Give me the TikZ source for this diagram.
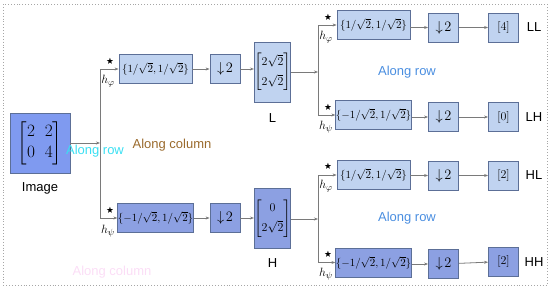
\documentclass[tikz,border=0pt]{standalone}
\usepackage{amsmath,amssymb}
\usepackage{fontspec}
\newfontfamily\labfont{Liberation Sans}
\usetikzlibrary{arrows.meta}
\definecolor{lightc}{HTML}{C0D3F0}
\definecolor{darkc}{HTML}{8CA0E2}
\definecolor{imgc}{HTML}{7F9AF0}
\definecolor{bordc}{HTML}{5C6F97}
\definecolor{linec}{HTML}{7A7A7A}
\definecolor{brownc}{HTML}{9A6A2C}
\definecolor{bluec}{HTML}{4A8EE0}
\definecolor{cyanc}{HTML}{3ADFF2}
\definecolor{pinkc}{HTML}{FBDDF6}
\tikzset{
  boxbase/.style={draw=bordc, line width=0.8pt, inner sep=0pt, align=center},
  lfilt/.style={boxbase, fill=lightc, minimum width=73pt, minimum height=29pt, font=\fontsize{10.5}{12}\selectfont},
  dfilt/.style={boxbase, fill=darkc, minimum width=73pt, minimum height=29pt, font=\fontsize{10.5}{12}\selectfont},
  ldown/.style={boxbase, fill=lightc, minimum width=30pt, minimum height=29pt, font=\fontsize{15}{17}\selectfont},
  ddown/.style={boxbase, fill=darkc, minimum width=30pt, minimum height=29pt, font=\fontsize{15}{17}\selectfont},
  lres/.style={boxbase, fill=lightc, minimum width=30pt, minimum height=29pt, font=\fontsize{12}{14}\selectfont},
  dres/.style={boxbase, fill=darkc, minimum width=30pt, minimum height=29pt, font=\fontsize{12}{14}\selectfont},
  lmid/.style={boxbase, fill=lightc, minimum width=29pt, minimum height=60pt, font=\fontsize{12.5}{15}\selectfont},
  dmid/.style={boxbase, fill=darkc, minimum width=29pt, minimum height=60pt, font=\fontsize{12.5}{15}\selectfont},
  lab/.style={font=\labfont\fontsize{13}{15}\selectfont},
  arr/.style={draw=linec, line width=0.8pt, -{Stealth[length=4pt,width=3pt]}},
  hlab/.style={font=\fontsize{13}{15}\selectfont},
  starlab/.style={font=\fontsize{7.5}{9}\selectfont},
}
\newcommand{\filtp}{$\{1/\sqrt{2},1/\sqrt{2}\}$}
\newcommand{\filtm}{$\{-1/\sqrt{2},1/\sqrt{2}\}$}
\begin{document}
\begin{tikzpicture}[x=1pt,y=-1pt]
\useasboundingbox (0,0) rectangle (550,289);
\draw[gray!70, dotted, line width=0.9pt] (3,4) rectangle (547,285);

% faint ghost text
\node[text=pinkc, lab, anchor=center] (ghost) at (112,272) {Along column};

% image
\node[boxbase, fill=imgc, minimum width=60pt, minimum height=60pt, font=\fontsize{18}{22}\selectfont] (img) at (40,143)
  {$\begin{bmatrix}2 & 2\\[-1pt] 0 & 4\end{bmatrix}$};
\node[lab] (imgl) at (40,188) {Image};

% level 1
\coordinate (j1) at (100,143);
\node[lfilt] (f1) at (155.5,69) {\filtp};
\node[ldown] (d1) at (225,69) {$\downarrow\!2$};
\node[lmid] (L) at (272.5,72) {$\left[\begin{array}{@{}c@{}}2\sqrt{2}\\[5pt] 2\sqrt{2}\end{array}\right]$};
\node[lab] (Ll) at (272.5,118) {L};
\node[dfilt] (f2) at (155.5,218) {\filtm};
\node[ddown] (d2) at (225,218) {$\downarrow\!2$};
\node[dmid] (H) at (272.5,218.5) {$\left[\begin{array}{@{}c@{}}0\\[5pt] 2\sqrt{2}\end{array}\right]$};
\node[lab] (Hl) at (272.5,263) {H};

\node[starlab] (s1) at (110,62) {$\bigstar$};
\node[hlab] (h1) at (108,81) {$h_\varphi$};
\node[starlab] (s2) at (110,211) {$\bigstar$};
\node[hlab] (h2) at (108,231) {$h_\psi$};

\draw[arr] (img.east |- j1) -- (j1);
\draw[arr] (j1) |- (f1.west);
\draw[arr] (j1) |- (f2.west);
\draw[arr] (f1) -- (d1);
\draw[arr] (d1) -- (L.west |- d1);
\draw[arr] (f2) -- (d2);
\draw[arr] (d2) -- (H.west |- d2);

\node[lab, text=brownc] (ac) at (172,145) {Along column};
\node[lab, text=cyanc] (ar0) at (95,151) {Along row};

% level 2, from L
\coordinate (j2) at (318,72);
\node[lfilt] (f3) at (373.5,25) {\filtp};
\node[ldown] (d3) at (443.5,27.5) {$\downarrow\!2$};
\node[lres] (r3) at (503.5,27.5) {$[4]$};
\node[lab] (LL) at (534,27) {LL};
\node[lfilt] (f4) at (373.5,115) {\filtm};
\node[ldown] (d4) at (443.5,117) {$\downarrow\!2$};
\node[lres] (r4) at (503.5,117) {$[0]$};
\node[lab] (LH) at (534,117) {LH};
\node[starlab] (s3) at (328,18) {$\bigstar$};
\node[hlab] (h3) at (326,37) {$h_\varphi$};
\node[starlab] (s4) at (328,108) {$\bigstar$};
\node[hlab] (h4) at (326,127) {$h_\psi$};
\node[lab, text=bluec] (ar1) at (407,72) {Along row};

\draw[arr] (L.east |- j2) -- (j2);
\draw[arr] (j2) |- (f3.west);
\draw[arr] (j2) |- (f4.west);
\draw[arr] (f3.east |- d3) -- (d3);
\draw[arr] (d3) -- (r3);
\draw[arr] (f4.east |- d4) -- (d4);
\draw[arr] (d4) -- (r4);

% level 2, from H
\coordinate (j3) at (318,219);
\node[lfilt] (f5) at (373.5,175) {\filtp};
\node[ldown] (d5) at (443.5,175.5) {$\downarrow\!2$};
\node[lres] (r5) at (503.5,175.5) {$[2]$};
\node[lab] (HL) at (534,175) {HL};
\node[dfilt] (f6) at (373.5,262.5) {\filtm};
\node[ddown] (d6) at (443.5,264) {$\downarrow\!2$};
\node[dres] (r6) at (503.5,261.5) {$[2]$};
\node[lab] (HH) at (534,262) {HH};
\node[starlab] (s5) at (328,167) {$\bigstar$};
\node[hlab] (h5) at (326,186) {$h_\varphi$};
\node[starlab] (s6) at (328,255) {$\bigstar$};
\node[hlab] (h6) at (326,274) {$h_\psi$};
\node[lab, text=bluec] (ar2) at (407,218) {Along row};

\draw[arr] (H.east |- j3) -- (j3);
\draw[arr] (j3) |- (f5.west);
\draw[arr] (j3) |- (f6.west);
\draw[arr] (f5.east |- d5) -- (d5);
\draw[arr] (d5) -- (r5);
\draw[arr] (f6.east |- d6) -- (d6);
\draw[arr] (d6) -- (r6);
\end{tikzpicture}
\end{document}
